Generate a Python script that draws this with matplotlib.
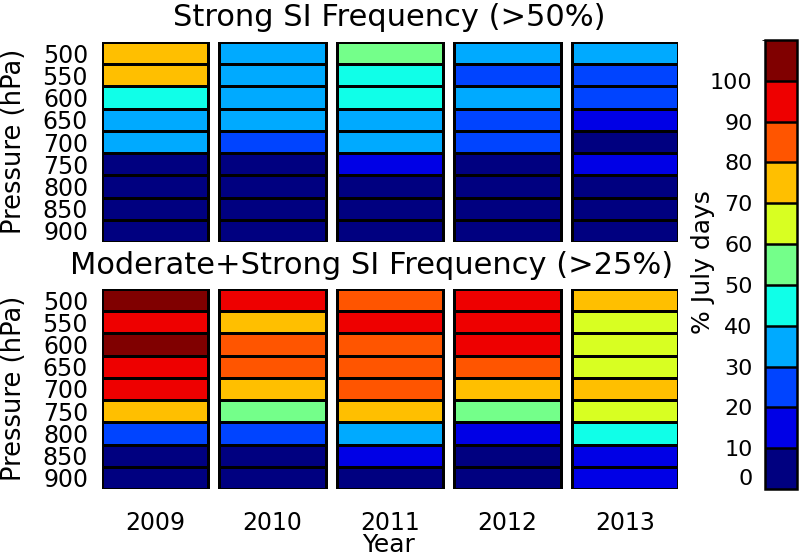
import matplotlib
matplotlib.use("Agg")
import matplotlib.pyplot as plt
import numpy as np
from matplotlib.colors import ListedColormap, BoundaryNorm
from matplotlib.cm import ScalarMappable

years = ["2009", "2010", "2011", "2012", "2013"]
pressures = ["500", "550", "600", "650", "700", "750", "800", "850", "900"]

# % of July days, rows = pressure levels (500 -> 900), one list per year
strong_2009 = [75, 75, 45, 35, 35, 5, 5, 5, 5]
strong_2010 = [35, 35, 35, 35, 25, 5, 5, 5, 5]
strong_2011 = [55, 45, 45, 35, 35, 15, 5, 5, 5]
strong_2012 = [35, 25, 35, 25, 25, 5, 5, 5, 5]
strong_2013 = [35, 25, 25, 15, 5, 15, 5, 5, 5]

modstrong_2009 = [105, 95, 105, 95, 95, 75, 25, 5, 5]
modstrong_2010 = [95, 75, 85, 85, 75, 55, 25, 5, 5]
modstrong_2011 = [85, 95, 85, 85, 85, 75, 35, 15, 5]
modstrong_2012 = [95, 95, 95, 85, 75, 55, 15, 5, 5]
modstrong_2013 = [75, 65, 65, 65, 75, 65, 45, 15, 15]

levels = [0, 10, 20, 30, 40, 50, 60, 70, 80, 90, 100, 110]
cb_ticks = [0, 10, 20, 30, 40, 50, 60, 70, 80, 90, 100]
colors = ["#000080", "#0000E6", "#0044FF", "#00AAFF", "#10FFE8",
          "#74FF8A", "#D8FF22", "#FFBF00", "#FF5500", "#EE0000", "#800000"]

cmap = ListedColormap(colors)
norm = BoundaryNorm(levels, cmap.N)

plt.rcParams['font.family'] = ['DejaVu Sans']

W, H = 800, 558
fig = plt.figure(figsize=(W / 100, H / 100), dpi=100)

def frac(x0, y0, x1, y1):
    return [x0 / W, (H - y1) / H, (x1 - x0) / W, (y1 - y0) / H]

col_w = 107 / 118.0
half = col_w / 2

def draw_panel(ax, data_cols, title, title_x, title_y, show_years):
    yedges = np.arange(len(pressures) + 1)
    for j, col in enumerate(data_cols):
        z = np.array(col, dtype=float).reshape(-1, 1)
        ax.pcolormesh([j - half, j + half], yedges, z, cmap=cmap, norm=norm,
                      edgecolors="black", linewidth=1.8)
    ax.set_xlim(-half, len(years) - 1 + half)
    ax.set_ylim(len(pressures), 0)
    for s in ax.spines.values():
        s.set_visible(False)
    ax.set_yticks(np.arange(len(pressures)) + 0.5)
    ax.set_yticklabels(pressures, fontsize=17)
    ax.tick_params(axis="y", length=0, pad=10)
    ax.set_xticks(range(len(years)))
    if show_years:
        ax.set_xticklabels(years, fontsize=17)
        ax.tick_params(axis="x", length=0, pad=16)
    else:
        ax.set_xticklabels([])
        ax.tick_params(axis="x", length=0)
    fig.text(title_x / W, 1 - title_y / H, title, fontsize=22,
             ha="center", va="center")

ax1 = fig.add_axes(frac(102, 42, 678, 242))
draw_panel(ax1, [strong_2009, strong_2010, strong_2011, strong_2012, strong_2013],
           "Strong SI Frequency (>50%)", 389, 17, False)
ax2 = fig.add_axes(frac(102, 289, 678, 489))
draw_panel(ax2, [modstrong_2009, modstrong_2010, modstrong_2011, modstrong_2012, modstrong_2013],
           "Moderate+Strong SI Frequency (>25%)", 372, 266, True)

for ycen in (141, 388):
    fig.text(14 / W, 1 - ycen / H, "Pressure (hPa)", rotation=90,
             fontsize=18.5, ha="center", va="center")

fig.text(389 / W, 1 - 545 / H, "Year", fontsize=18, ha="center", va="center")

cax = fig.add_axes(frac(765, 40, 797, 489))
sm = ScalarMappable(norm=norm, cmap=cmap)
cb = fig.colorbar(sm, cax=cax, ticks=cb_ticks)
cb.outline.set_linewidth(1.8)
for lv in levels[1:-1]:
    cax.axhline(lv, color="black", linewidth=1.8)
cax.yaxis.set_ticks_position("left")
cax.tick_params(axis="y", length=0, pad=9, labelsize=16)
lbls = cax.get_yticklabels()
lbls[0].set_va("bottom")
fig.text(703 / W, 1 - 262 / H, "% July days", rotation=90, fontsize=18,
         ha="center", va="center")

fig.savefig("out.png", dpi=100, facecolor="white")
